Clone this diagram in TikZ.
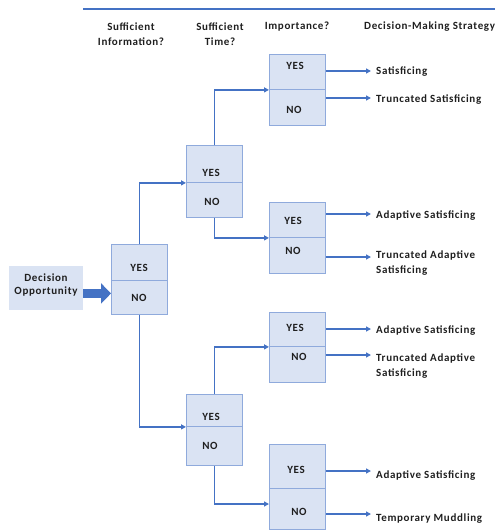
\documentclass[tikz,border=0pt]{standalone}
\usepackage{fontspec}
\setmainfont[LetterSpace=6]{Carlito}
\usetikzlibrary{arrows.meta,calc}
\definecolor{lineblue}{HTML}{4472C4}
\definecolor{boxfill}{HTML}{DAE3F3}
\definecolor{boxdraw}{HTML}{8FAADC}
\begin{document}
\begin{tikzpicture}[x=1pt,y=-1pt,
  half/.style={draw=boxdraw, fill=boxfill, line width=0.9pt, minimum width=56pt, inner sep=0pt, anchor=north west},
  lbl/.style={font=\bfseries\fontsize{11}{15}\selectfont, text=black!88, inner sep=0pt},
  outtxt/.style={lbl, align=left},
  conn/.style={draw=lineblue, line width=1.4pt, -{Triangle[length=5pt,width=5pt]}},
  outconn/.style={conn, shorten >=5pt},
]
\useasboundingbox (0,0) rectangle (495,530);
% top rule
\draw[lineblue, line width=2pt] (83,9) -- (495,9);
% headers
\node[lbl, align=center] (h1) at (131,34.5) {Sufficient\\Information?};
\node[lbl, align=center] (h2) at (220,34.5) {Sufficient\\Time?};
\node[lbl] (h3) at (297,27) {Importance?};
\node[lbl, anchor=west] (h4) at (364,27) {Decision-Making Strategy};
% decision opportunity
\node[fill=boxfill, minimum width=74pt, minimum height=44pt, inner sep=0pt] (dec) at (46,288) {};
\node[lbl, align=center, font=\bfseries\fontsize{11}{13}\selectfont] (dect) at (46,285) {Decision\\Opportunity};
% boxes
\node[half, minimum height=36pt] (Ay) at (111,244) {};
\node[half, minimum height=34pt] (An) at (111,280) {};
\node[half, minimum height=37pt] (By) at (186,145) {};
\node[half, minimum height=35pt] (Bn) at (186,182) {};
\node[half, minimum height=32pt] (Cy) at (186,394) {};
\node[half, minimum height=39pt] (Cn) at (186,426) {};
\node[half, minimum height=35pt] (Dy) at (269,54) {};
\node[half, minimum height=36pt] (Dn) at (269,89) {};
\node[half, minimum height=35pt] (Ey) at (269,202) {};
\node[half, minimum height=36pt] (En) at (269,237) {};
\node[half, minimum height=34pt] (Fy) at (269,312) {};
\node[half, minimum height=36pt] (Fn) at (269,346) {};
\node[half, minimum height=44pt] (Gy) at (269,444) {};
\node[half, minimum height=41pt] (Gn) at (269,488) {};
% yes/no labels
\node[lbl] (Ayt) at (139,268) {YES};
\node[lbl] (Ant) at (139,298) {NO};
\node[lbl] (Byt) at (211,173) {YES};
\node[lbl] (Bnt) at (212,202) {NO};
\node[lbl] (Cyt) at (211,417) {YES};
\node[lbl] (Cnt) at (210,446) {NO};
\node[lbl] (Dyt) at (295,66) {YES};
\node[lbl] (Dnt) at (294,110) {NO};
\node[lbl] (Eyt) at (293,221) {YES};
\node[lbl] (Ent) at (293,251) {NO};
\node[lbl] (Fyt) at (295,328) {YES};
\node[lbl] (Fnt) at (299,357) {NO};
\node[lbl] (Gyt) at (296,470) {YES};
\node[lbl] (Gnt) at (299,512) {NO};
% outcomes
\node[outtxt, anchor=west] (o1) at (376,72) {Satisficing};
\node[outtxt, anchor=west] (o2) at (376,100) {Truncated Satisficing};
\node[outtxt, anchor=west] (o3) at (376,216) {Adaptive Satisficing};
\node[outtxt, anchor=north west] (o4) at (376,251) {Truncated Adaptive\\Satisficing};
\node[outtxt, anchor=west] (o5) at (376,331) {Adaptive Satisficing};
\node[outtxt, anchor=north west] (o6) at (376,354) {Truncated Adaptive\\Satisficing};
\node[outtxt, anchor=west] (o7) at (376,476) {Adaptive Satisficing};
\node[outtxt, anchor=west] (o8) at (376,519) {Temporary Muddling};
% block arrow
\draw[lineblue, line width=8.5pt, -{Triangle[length=10pt,width=20pt]}] (dec.east |- An.west) ++(0,-4) coordinate (bs) (bs) -- (bs -| An.west);
% tree connectors
\draw[conn] (Ay.north) |- (By.south west);
\draw[conn] (An.south) |- (Cy.south west);
\draw[conn] (By.north) |- (Dy.south west);
\draw[conn] (Bn.south) |- (Ey.south west);
\draw[conn] (Cy.north) |- (Fy.south west);
\coordinate (gin) at (269,504);
\draw[conn] (Cn.south) |- (gin);
% outcome connectors
\draw[outconn] (Dy.east |- 0,71) -- (o1.west |- 0,71);
\draw[outconn] (Dn.east |- 0,98) -- (o2.west |- 0,98);
\draw[outconn] (Ey.east |- 0,214) -- (o3.west |- 0,214);
\draw[outconn] (En.east |- 0,257) -- (o4.west |- 0,257);
\draw[outconn] (Fy.east |- 0,329) -- (o5.west |- 0,329);
\draw[outconn] (Fn.east |- 0,355) -- (o6.west |- 0,355);
\draw[outconn] (Gy.east |- 0,471) -- (o7.west |- 0,471);
\draw[outconn] (Gn.east |- 0,514) -- (o8.west |- 0,514);
\end{tikzpicture}
\end{document}
